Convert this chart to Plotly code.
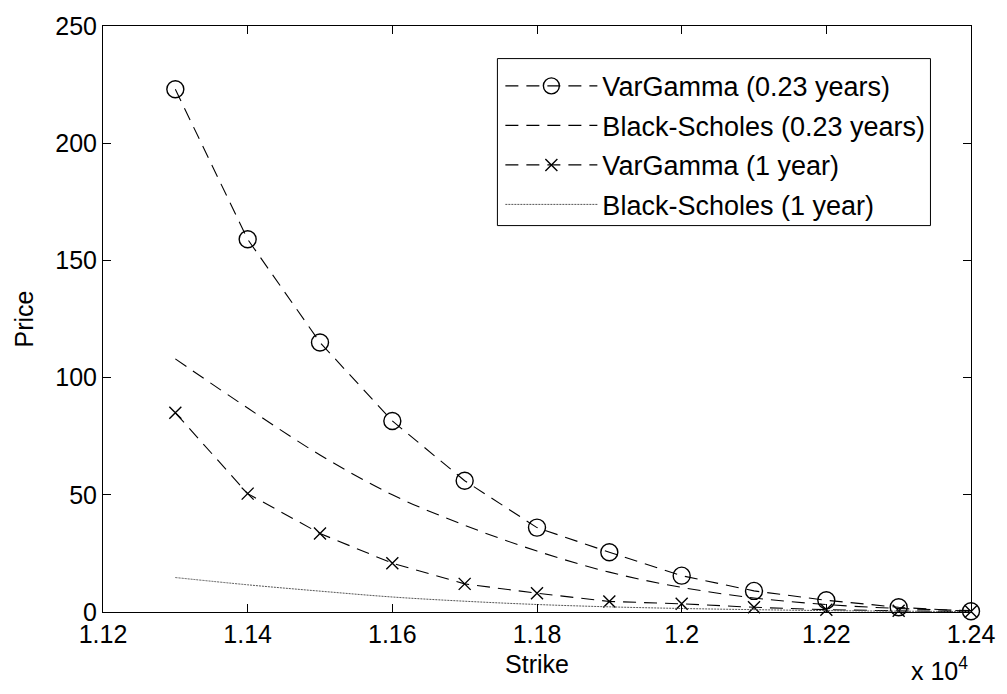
import plotly.graph_objects as go

# Strikes (in units of 10^4 on the axis)
strikes = [11300, 11400, 11500, 11600, 11700, 11800, 11900, 12000, 12100, 12200, 12300, 12400]
vg_023 = [223, 159, 115, 81.5, 56, 36, 25.5, 15.5, 9, 5, 2, 0.3]
bs_023 = [108, 87, 67, 50, 37, 26, 17, 10.5, 6, 3.2, 1.5, 0.6]
vg_1y = [85, 50.5, 33.5, 20.8, 12, 8, 4.5, 3.5, 2, 1, 0.5, 0.2]
bs_1y = [14.7, 11.6, 8.9, 6.4, 4.6, 3.2, 2.2, 1.5, 1.0, 0.6, 0.35, 0.2]

series_names = ["VarGamma (0.23 years)", "Black-Scholes (0.23 years)",
                "VarGamma (1 year)", "Black-Scholes (1 year)"]

x_ticks = [1.12, 1.14, 1.16, 1.18, 1.2, 1.22, 1.24]
x_ticktext = ["1.12", "1.14", "1.16", "1.18", "1.2", "1.22", "1.24"]
y_ticks = [0, 50, 100, 150, 200, 250]

xs = [s / 1e4 for s in strikes]
FONT = "Liberation Sans, Arial, sans-serif"
FS = 25
LFS = 27
DASH = "13px,8px"

fig = go.Figure()
fig.add_trace(go.Scatter(x=xs, y=vg_023, mode="lines+markers", name=series_names[0], legend="legend",
                         line=dict(color="black", width=1.1, dash=DASH),
                         marker=dict(symbol="circle-open", size=17, color="black", line=dict(width=1.4)),
                         cliponaxis=False))
fig.add_trace(go.Scatter(x=xs, y=bs_023, mode="lines", name=series_names[1], legend="legend2",
                         line=dict(color="black", width=1.1, dash=DASH, shape="spline"),
                         cliponaxis=False))
fig.add_trace(go.Scatter(x=xs, y=vg_1y, mode="lines+markers", name=series_names[2], legend="legend3",
                         line=dict(color="black", width=1.1, dash=DASH),
                         marker=dict(symbol="x-thin-open", size=12, color="black", line=dict(width=1.4)),
                         cliponaxis=False))
fig.add_trace(go.Scatter(x=xs, y=bs_1y, mode="lines", name=series_names[3], legend="legend4",
                         line=dict(color="#555555", width=1, dash="2px,1px", shape="spline"),
                         cliponaxis=False))

axis_common = dict(showline=True, linecolor="black", linewidth=1, mirror="ticks",
                   ticks="inside", ticklen=8, tickcolor="black", tickwidth=1,
                   showgrid=False, zeroline=False,
                   tickfont=dict(family=FONT, size=FS, color="black"))

fig.update_xaxes(range=[1.12, 1.24], tickvals=x_ticks, ticktext=x_ticktext,
                 title=dict(text="Strike", font=dict(family=FONT, size=FS, color="black"), standoff=8),
                 **axis_common)
fig.update_yaxes(range=[0, 250], tickvals=y_ticks,
                 title=dict(text="Price", font=dict(family=FONT, size=FS, color="black"), standoff=14),
                 **axis_common)

fig.add_annotation(xref="paper", yref="paper", x=0.929, y=-0.098, xanchor="left", yanchor="middle",
                   text="x 10<sup>4</sup>", showarrow=False,
                   font=dict(family=FONT, size=FS, color="black"))

# legend frame
fig.add_shape(type="rect", xref="paper", yref="paper", x0=0.4544, x1=0.9533, y0=0.6594, y1=0.9444,
              line=dict(color="black", width=1), fillcolor="white", layer="below")

leg_common = dict(xanchor="left", yanchor="middle", bgcolor="rgba(0,0,0,0)", borderwidth=0,
                  itemwidth=92, font=dict(family=FONT, size=LFS, color="black"))
leg_x = 0.4578
fig.update_layout(
    width=1007, height=694,
    margin=dict(l=103, r=26, t=19, b=82),
    paper_bgcolor="white", plot_bgcolor="white",
    font=dict(family=FONT, size=FS, color="black"),
    showlegend=True,
    legend=dict(x=leg_x, y=0.8971, **leg_common),
    legend2=dict(x=leg_x, y=0.8297, **leg_common),
    legend3=dict(x=leg_x, y=0.7622, **leg_common),
    legend4=dict(x=leg_x, y=0.6948, **leg_common),
)

fig.write_html("out.html")
